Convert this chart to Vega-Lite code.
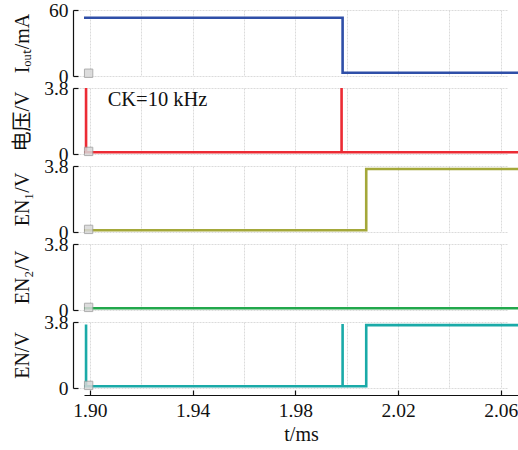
{
  "$schema": "https://vega.github.io/schema/vega-lite/v6.json",
  "background": "white",
  "padding": {"left": 12, "top": 0, "right": 0, "bottom": 2},
  "spacing": 12,
  "bounds": "flush",
  "config": {
    "view": {"stroke": null},
    "font": "Liberation Serif",
    "axis": {
      "labelFont": "Liberation Serif",
      "titleFont": "Liberation Serif, Noto Sans CJK SC",
      "labelFontSize": 19.5,
      "titleFontSize": 20,
      "titleFontWeight": "normal",
      "labelColor": "#111111",
      "titleColor": "#111111",
      "gridColor": "#d2d2d2",
      "gridDash": [2, 1],
      "gridWidth": 0.8,
      "domainColor": "#111111",
      "domainWidth": 1.2,
      "tickWidth": 1.2
    },
    "axisLeft": {
      "domain": true,
      "offset": 11,
      "tickSize": -5,
      "labelPadding": 10,
      "titleX": -51,
      "titleBaseline": "middle",
      "titleAngle": 270
    }
  },
  "datasets": {
    "sig": [
      {"s": "iout", "i": 1, "t": 1.8977, "v": 53},
      {"s": "iout", "i": 2, "t": 1.9984, "v": 53},
      {"s": "iout", "i": 3, "t": 1.9984, "v": 3},
      {"s": "iout", "i": 4, "t": 2.0667, "v": 3},
      {"s": "ck", "i": 1, "t": 1.8977, "v": 0.1},
      {"s": "ck", "i": 2, "t": 1.8985, "v": 0.1},
      {"s": "ck", "i": 3, "t": 1.8985, "v": 3.8},
      {"s": "ck", "i": 4, "t": 1.8985, "v": 0.1},
      {"s": "ck", "i": 5, "t": 1.998, "v": 0.1},
      {"s": "ck", "i": 6, "t": 1.998, "v": 3.8},
      {"s": "ck", "i": 7, "t": 1.998, "v": 0.1},
      {"s": "ck", "i": 8, "t": 2.0667, "v": 0.1},
      {"s": "en1", "i": 1, "t": 1.8977, "v": 0.1},
      {"s": "en1", "i": 2, "t": 2.0076, "v": 0.1},
      {"s": "en1", "i": 3, "t": 2.0076, "v": 3.63},
      {"s": "en1", "i": 4, "t": 2.0667, "v": 3.63},
      {"s": "en2", "i": 1, "t": 1.8977, "v": 0.1},
      {"s": "en2", "i": 2, "t": 2.0667, "v": 0.1},
      {"s": "en", "i": 1, "t": 1.8977, "v": 0.1},
      {"s": "en", "i": 2, "t": 1.8985, "v": 0.1},
      {"s": "en", "i": 3, "t": 1.8985, "v": 3.65},
      {"s": "en", "i": 4, "t": 1.8985, "v": 0.1},
      {"s": "en", "i": 5, "t": 1.9984, "v": 0.1},
      {"s": "en", "i": 6, "t": 1.9984, "v": 3.68},
      {"s": "en", "i": 7, "t": 1.9984, "v": 0.1},
      {"s": "en", "i": 8, "t": 2.0076, "v": 0.1},
      {"s": "en", "i": 9, "t": 2.0076, "v": 3.62},
      {"s": "en", "i": 10, "t": 2.0667, "v": 3.62}
    ],
    "mk": [
      {"s": "iout", "t": 1.8995, "v": 2.5},
      {"s": "ck", "t": 1.8995, "v": 0.15},
      {"s": "en1", "t": 1.8995, "v": 0.15},
      {"s": "en2", "t": 1.8995, "v": 0.15},
      {"s": "en", "t": 1.8995, "v": 0.15}
    ],
    "note": [
      {"t": 1.9069, "v": 3.1, "label": "CK=10 kHz"}
    ]
  },
  "vconcat": [
    {
      "width": 434,
      "height": 66,
      "layer": [
        {
          "data": {"name": "sig"},
          "transform": [{"filter": "datum.s == 'iout'"}],
          "mark": {"type": "line", "color": "#2f4fa8", "strokeWidth": 2.6},
          "encoding": {
            "x": {"field": "t", "type": "quantitative", "scale": {"domain": [1.8977, 2.0667], "nice": false, "zero": false},
              "axis": {"values": [1.90, 1.91, 1.92, 1.93, 1.94, 1.95, 1.96, 1.97, 1.98, 1.99, 2.00, 2.01, 2.02, 2.03, 2.04, 2.05, 2.06], "grid": true, "labels": false, "ticks": false, "domain": false, "title": null}},
            "y": {"field": "v", "type": "quantitative", "scale": {"domain": [0, 60], "nice": false},
              "axis": {"values": [0, 7.5, 15, 22.5, 30, 37.5, 45, 52.5, 60], "grid": true,
                "labelExpr": "datum.value == 0 ? '0' : datum.value == 60 ? '60' : ''",
                "tickColor": {"condition": {"test": "datum.value == 0 || datum.value == 60", "value": "#111111"}, "value": "transparent"},
                "title": "Iₒᵤₜ/mA"}},
            "order": {"field": "i", "type": "quantitative"}
          }
        },
        {
          "data": {"name": "mk"},
          "transform": [{"filter": "datum.s == 'iout'"}],
          "mark": {"type": "point", "shape": "square", "size": 70, "filled": true, "color": "#d8d8d8", "stroke": "#a0a0a0", "strokeWidth": 1, "opacity": 0.85},
          "encoding": {"x": {"field": "t", "type": "quantitative"}, "y": {"field": "v", "type": "quantitative"}}
        }
      ]
    },
    {
      "width": 434,
      "height": 66,
      "layer": [
        {
          "data": {"name": "sig"},
          "transform": [{"filter": "datum.s == 'ck'"}],
          "mark": {"type": "line", "color": "#ec2b34", "strokeWidth": 2.6},
          "encoding": {
            "x": {"field": "t", "type": "quantitative", "scale": {"domain": [1.8977, 2.0667], "nice": false, "zero": false},
              "axis": {"values": [1.90, 1.91, 1.92, 1.93, 1.94, 1.95, 1.96, 1.97, 1.98, 1.99, 2.00, 2.01, 2.02, 2.03, 2.04, 2.05, 2.06], "grid": true, "labels": false, "ticks": false, "domain": false, "title": null}},
            "y": {"field": "v", "type": "quantitative", "scale": {"domain": [0, 3.8], "nice": false},
              "axis": {"values": [0, 0.475, 0.95, 1.425, 1.9, 2.375, 2.85, 3.325, 3.8], "grid": true,
                "labelExpr": "datum.value == 0 ? '0' : datum.value == 3.8 ? '3.8' : ''",
                "tickColor": {"condition": {"test": "datum.value == 0 || datum.value == 3.8", "value": "#111111"}, "value": "transparent"},
                "title": "电压/V"}},
            "order": {"field": "i", "type": "quantitative"}
          }
        },
        {
          "data": {"name": "mk"},
          "transform": [{"filter": "datum.s == 'ck'"}],
          "mark": {"type": "point", "shape": "square", "size": 70, "filled": true, "color": "#d8d8d8", "stroke": "#a0a0a0", "strokeWidth": 1, "opacity": 0.85},
          "encoding": {"x": {"field": "t", "type": "quantitative"}, "y": {"field": "v", "type": "quantitative"}}
        },
        {
          "data": {"name": "note"},
          "mark": {"type": "text", "align": "left", "baseline": "middle", "font": "Liberation Serif", "fontSize": 20.5, "color": "#111111"},
          "encoding": {"x": {"field": "t", "type": "quantitative"}, "y": {"field": "v", "type": "quantitative"}, "text": {"field": "label"}}
        }
      ]
    },
    {
      "width": 434,
      "height": 66,
      "layer": [
        {
          "data": {"name": "sig"},
          "transform": [{"filter": "datum.s == 'en1'"}],
          "mark": {"type": "line", "color": "#a4a83a", "strokeWidth": 2.6},
          "encoding": {
            "x": {"field": "t", "type": "quantitative", "scale": {"domain": [1.8977, 2.0667], "nice": false, "zero": false},
              "axis": {"values": [1.90, 1.91, 1.92, 1.93, 1.94, 1.95, 1.96, 1.97, 1.98, 1.99, 2.00, 2.01, 2.02, 2.03, 2.04, 2.05, 2.06], "grid": true, "labels": false, "ticks": false, "domain": false, "title": null}},
            "y": {"field": "v", "type": "quantitative", "scale": {"domain": [0, 3.8], "nice": false},
              "axis": {"values": [0, 0.475, 0.95, 1.425, 1.9, 2.375, 2.85, 3.325, 3.8], "grid": true,
                "labelExpr": "datum.value == 0 ? '0' : datum.value == 3.8 ? '3.8' : ''",
                "tickColor": {"condition": {"test": "datum.value == 0 || datum.value == 3.8", "value": "#111111"}, "value": "transparent"},
                "title": "EN₁/V"}},
            "order": {"field": "i", "type": "quantitative"}
          }
        },
        {
          "data": {"name": "mk"},
          "transform": [{"filter": "datum.s == 'en1'"}],
          "mark": {"type": "point", "shape": "square", "size": 70, "filled": true, "color": "#d8d8d8", "stroke": "#a0a0a0", "strokeWidth": 1, "opacity": 0.85},
          "encoding": {"x": {"field": "t", "type": "quantitative"}, "y": {"field": "v", "type": "quantitative"}}
        }
      ]
    },
    {
      "width": 434,
      "height": 66,
      "layer": [
        {
          "data": {"name": "sig"},
          "transform": [{"filter": "datum.s == 'en2'"}],
          "mark": {"type": "line", "color": "#22a84c", "strokeWidth": 2.6},
          "encoding": {
            "x": {"field": "t", "type": "quantitative", "scale": {"domain": [1.8977, 2.0667], "nice": false, "zero": false},
              "axis": {"values": [1.90, 1.91, 1.92, 1.93, 1.94, 1.95, 1.96, 1.97, 1.98, 1.99, 2.00, 2.01, 2.02, 2.03, 2.04, 2.05, 2.06], "grid": true, "labels": false, "ticks": false, "domain": false, "title": null}},
            "y": {"field": "v", "type": "quantitative", "scale": {"domain": [0, 3.8], "nice": false},
              "axis": {"values": [0, 0.475, 0.95, 1.425, 1.9, 2.375, 2.85, 3.325, 3.8], "grid": true,
                "labelExpr": "datum.value == 0 ? '0' : datum.value == 3.8 ? '3.8' : ''",
                "tickColor": {"condition": {"test": "datum.value == 0 || datum.value == 3.8", "value": "#111111"}, "value": "transparent"},
                "title": "EN₂/V"}},
            "order": {"field": "i", "type": "quantitative"}
          }
        },
        {
          "data": {"name": "mk"},
          "transform": [{"filter": "datum.s == 'en2'"}],
          "mark": {"type": "point", "shape": "square", "size": 70, "filled": true, "color": "#d8d8d8", "stroke": "#a0a0a0", "strokeWidth": 1, "opacity": 0.85},
          "encoding": {"x": {"field": "t", "type": "quantitative"}, "y": {"field": "v", "type": "quantitative"}}
        }
      ]
    },
    {
      "width": 434,
      "height": 66,
      "layer": [
        {
          "data": {"name": "sig"},
          "transform": [{"filter": "datum.s == 'en'"}],
          "mark": {"type": "line", "color": "#1aaaa8", "strokeWidth": 2.6},
          "encoding": {
            "x": {"field": "t", "type": "quantitative", "scale": {"domain": [1.8977, 2.0667], "nice": false, "zero": false},
              "axis": {"values": [1.90, 1.91, 1.92, 1.93, 1.94, 1.95, 1.96, 1.97, 1.98, 1.99, 2.00, 2.01, 2.02, 2.03, 2.04, 2.05, 2.06], "grid": true, "offset": 7, "tickSize": -5,
                "labelExpr": "round(datum.value * 100) % 4 == 2 ? format(datum.value, '.2f') : ''",
                "tickColor": {"condition": {"test": "round(datum.value * 100) % 4 == 2", "value": "#111111"}, "value": "transparent"},
                "labelPadding": 11, "title": "t/ms", "titlePadding": 5}},
            "y": {"field": "v", "type": "quantitative", "scale": {"domain": [0, 3.8], "nice": false},
              "axis": {"values": [0, 0.475, 0.95, 1.425, 1.9, 2.375, 2.85, 3.325, 3.8], "grid": true,
                "labelExpr": "datum.value == 0 ? '0' : datum.value == 3.8 ? '3.8' : ''",
                "tickColor": {"condition": {"test": "datum.value == 0 || datum.value == 3.8", "value": "#111111"}, "value": "transparent"},
                "title": "EN/V"}},
            "order": {"field": "i", "type": "quantitative"}
          }
        },
        {
          "data": {"name": "mk"},
          "transform": [{"filter": "datum.s == 'en'"}],
          "mark": {"type": "point", "shape": "square", "size": 70, "filled": true, "color": "#d8d8d8", "stroke": "#a0a0a0", "strokeWidth": 1, "opacity": 0.85},
          "encoding": {"x": {"field": "t", "type": "quantitative"}, "y": {"field": "v", "type": "quantitative"}}
        }
      ]
    }
  ]
}
